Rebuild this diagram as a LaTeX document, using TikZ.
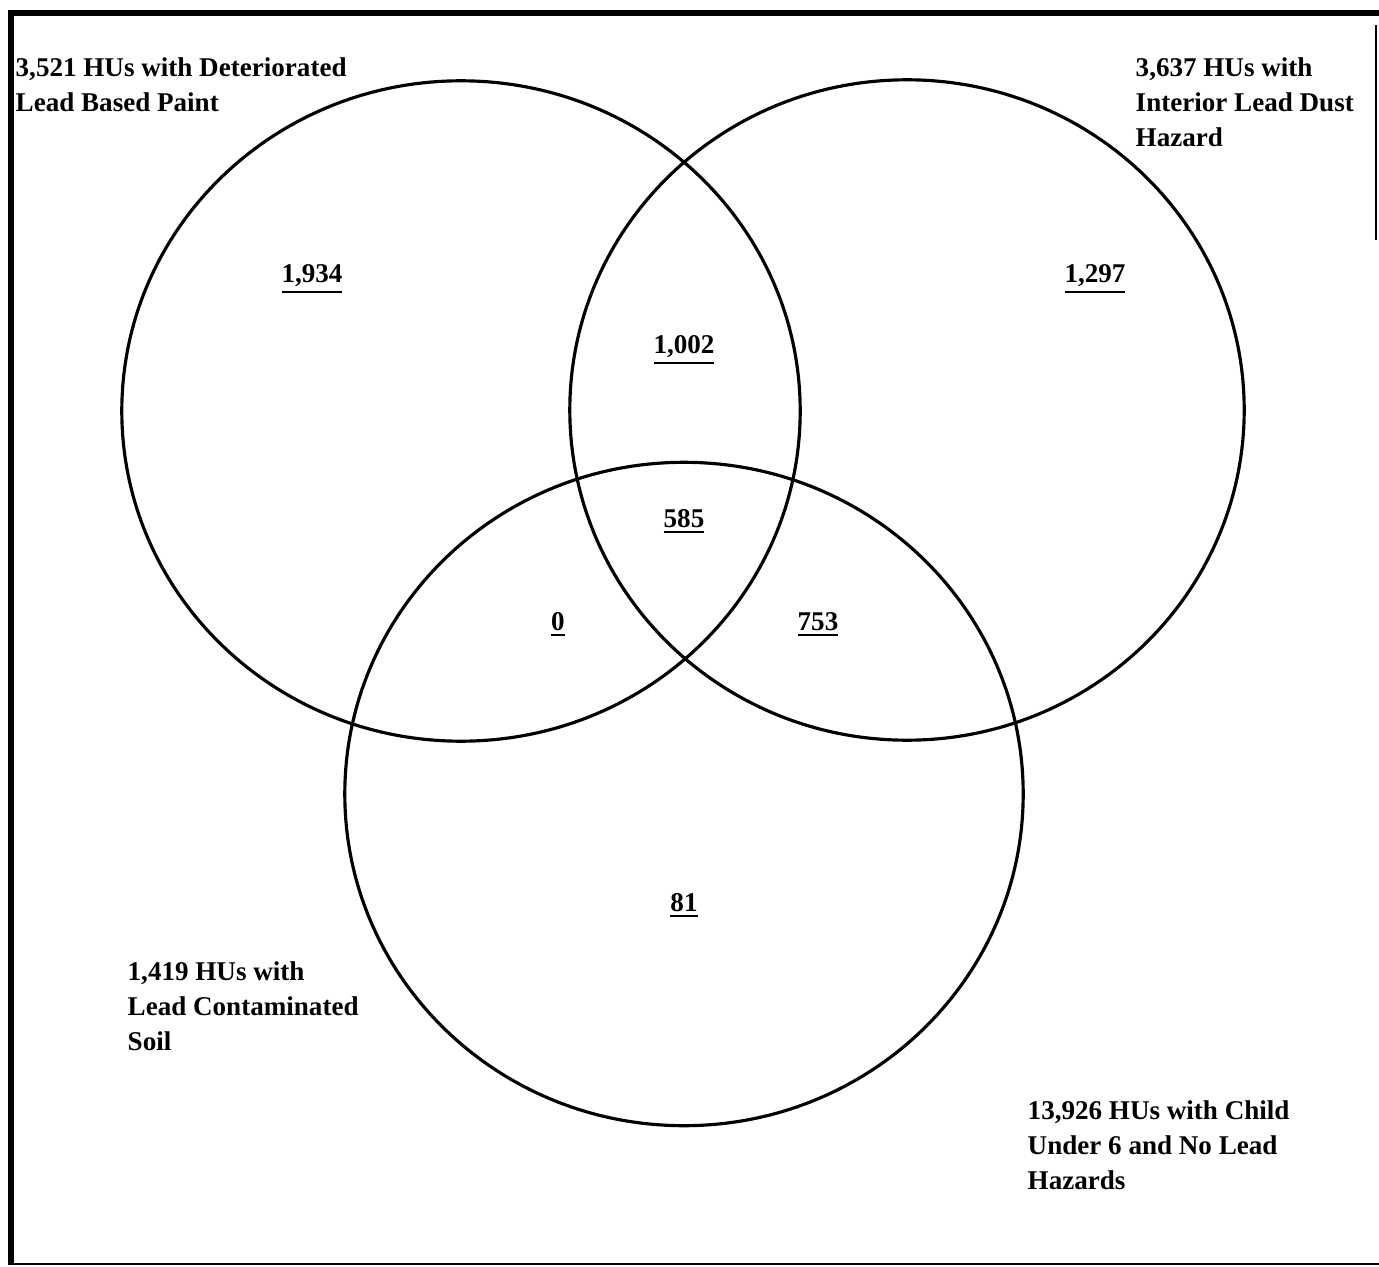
\documentclass[tikz,border=0pt]{standalone}
\usepackage{fontspec}
\setmainfont{Liberation Serif}
\usetikzlibrary{positioning,shapes.geometric}

\begin{document}
\begin{tikzpicture}[
    x=0.01cm, y=-0.01cm,
    ring/.style={draw, ellipse, line width=0.9pt, inner sep=0pt,
                 minimum width=6.78cm, minimum height=6.6cm},
    group/.style={anchor=north west, inner sep=0pt, align=left,
                  font=\fontsize{7.7}{9.9}\selectfont\bfseries},
    count/.style={anchor=base, inner sep=0pt,
                  font=\fontsize{7.7}{9.9}\selectfont\bfseries}
  ]
  \useasboundingbox (0,0) rectangle (1379,1267);

  % frame
  \draw[line width=1.5pt] (11,1265) -- (11,13) -- (1379,13);
  \draw[line width=0.6pt] (9,1264) -- (1379,1264);
  \draw[line width=0.4pt] (1376,25) -- (1376,240);

  % the three sets
  \node[ring] (paint) at (461,411) {};
  \node[ring, minimum width=6.74cm] (dust) at (907,410) {};
  \node[ring, minimum height=6.63cm] (soil) at (684,794) {};

  % set labels
  \node[group] (paintlbl) at (15,57) {3,521 HUs with Deteriorated\\Lead Based Paint};
  \node[group] (dustlbl) at (1135,57) {3,637 HUs with\\Interior Lead Dust\\Hazard};
  \node[group] (soillbl) at (127,961) {1,419 HUs with\\Lead Contaminated\\Soil};
  \node[group] (nonelbl) at (1027,1100) {13,926 HUs with Child\\Under 6 and No Lead\\Hazards};

  % region counts
  \node[count] (onlypaint) at (312,283) {\underline{1,934}};
  \node[count] (onlydust)  at (1095,283) {\underline{1,297}};
  \node[count] (paintdust) at (684,354) {\underline{1,002}};
  \node[count] (allthree)  at (684,527) {\underline{585}};
  \node[count] (paintsoil) at (558,630) {\underline{0}};
  \node[count] (dustsoil)  at (818,630) {\underline{753}};
  \node[count] (onlysoil)  at (684,911) {\underline{81}};
\end{tikzpicture}
\end{document}
